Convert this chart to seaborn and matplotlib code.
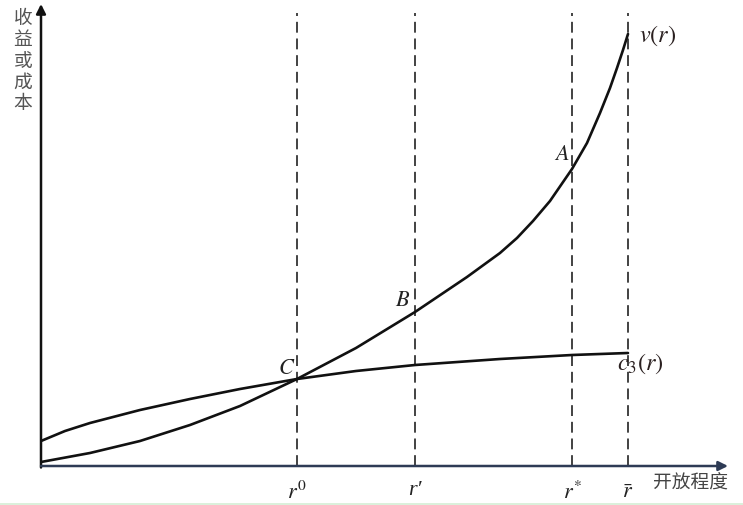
import matplotlib
matplotlib.use("Agg")
import matplotlib.pyplot as plt
import seaborn as sns
import pandas as pd
from matplotlib.lines import Line2D

# ---- data (abstract units) ----
v_openness = [0, 49, 99, 149, 199, 256, 315, 374, 426, 459, 476, 492, 509,
              531, 546, 559, 569, 576, 582, 587]
v_values = [4, 13, 25, 41, 60, 87, 118, 154, 189, 213, 228, 245, 265,
            297, 323, 353, 378, 398, 416, 432]

c_openness = [0, 24, 49, 99, 149, 199, 256, 315, 374, 459, 531, 587]
c_values = [25, 35, 43, 56, 67, 77, 87, 95, 101, 107, 111, 113]

marker_positions = [256, 374, 531, 587]
marker_labels = [r"$r^0$", "r\u2032", r"$r^{*}$", r"$\bar{r}$"]

point_labels = ["A", "B", "C"]
point_xy = [(521, 313), (362, 167), (246, 100)]

x_title = "开放程度"
y_title = "收益或成本"

# ---- style ----
sns.set_theme(style="white")
plt.rcParams["font.family"] = ["Noto Sans CJK SC", "DejaVu Sans"]
plt.rcParams["mathtext.fontset"] = "stix"

W, H = 743, 506
fig = plt.figure(figsize=(W / 100, H / 100), dpi=100)
ax = fig.add_axes([41 / W, 39 / H, 687 / W, 462 / H])
ax.set_xlim(0, 687)
ax.set_ylim(0, 462)
for s in ax.spines.values():
    s.set_visible(False)
ax.set_xticks([])
ax.set_yticks([])
ax.patch.set_alpha(0)

v_df = pd.DataFrame({"openness": v_openness, "value": v_values})
c_df = pd.DataFrame({"openness": c_openness, "value": c_values})
sns.lineplot(data=v_df, x="openness", y="value", ax=ax, color="#111111",
             linewidth=1.9, sort=False, solid_capstyle="round",
             solid_joinstyle="round")
sns.lineplot(data=c_df, x="openness", y="value", ax=ax, color="#111111",
             linewidth=1.9, sort=False, solid_capstyle="round",
             solid_joinstyle="round")
ax.set_xlabel("")
ax.set_ylabel("")

# dashed verticals
for xp in marker_positions:
    ax.plot([xp, xp], [0, 453], color="#222222", linewidth=1.2,
            dashes=(6.5, 3.5), zorder=1)

# axes with arrows
ax.annotate("", xy=(0, 462), xytext=(0, -1.5), xycoords="data",
            arrowprops=dict(arrowstyle="-|>", color="#111111", lw=1.8,
                            mutation_scale=14, shrinkA=0, shrinkB=0),
            annotation_clip=False)
ax.annotate("", xy=(687, 0), xytext=(0, 0), xycoords="data",
            arrowprops=dict(arrowstyle="-|>", color="#2e3b55", lw=1.8,
                            mutation_scale=14, shrinkA=0, shrinkB=0),
            annotation_clip=False)

# tick labels
for xp, lab in zip(marker_positions, marker_labels):
    if lab.startswith("$"):
        ax.text(xp, -25, lab, ha="center", va="center", fontsize=16,
                color="#222222", clip_on=False)
    else:
        ax.text(xp, -24, lab, ha="center", va="center", fontsize=16,
                color="#222222", clip_on=False, style="italic",
                family=["Liberation Serif", "DejaVu Serif"])

# point labels
for lab, (xp, yp) in zip(point_labels, point_xy):
    ax.text(xp, yp, f"${lab}$", ha="center", va="center", fontsize=16,
            color="#222222")

# curve labels
ax.text(598, 432, r"$v(r)$", ha="left", va="center", fontsize=17.5, color="#2a2020")
ax.text(576, 104, r"$c_3(r)$", ha="left", va="center", fontsize=17.5, color="#2a2020")

# axis titles
ax.text(649, -16, x_title, ha="center", va="center", fontsize=13.5,
        color="#444444", clip_on=False)
ax.text(-18, 406, "\n".join(y_title), ha="center", va="center", fontsize=13.5,
        color="#555555", linespacing=1.03, clip_on=False)

# faint bottom border line seen in the reference
fig.add_artist(Line2D([0, 1], [1.5 / H, 1.5 / H], color="#d4eed4", lw=1.2))

fig.savefig("out.png", dpi=100, facecolor="white")
